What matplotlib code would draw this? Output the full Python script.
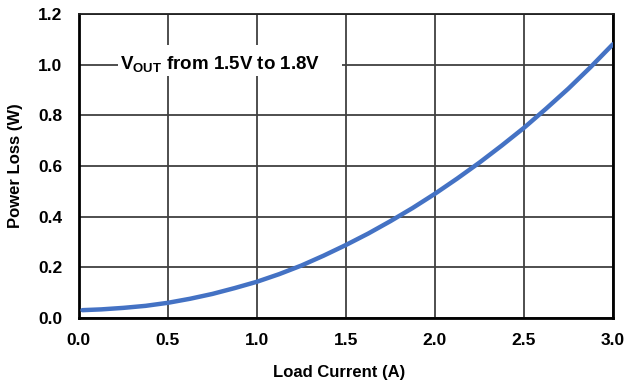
import matplotlib
matplotlib.use("Agg")
import matplotlib.pyplot as plt
from matplotlib.patches import Rectangle

plt.rcParams['font.family'] = ['Liberation Sans', 'DejaVu Sans']
plt.rcParams['font.weight'] = 'bold'
plt.rcParams['mathtext.fontset'] = 'custom'
plt.rcParams['mathtext.rm'] = 'Liberation Sans:bold'
plt.rcParams['mathtext.bf'] = 'Liberation Sans:bold'

# 곡선 데이터
load_current = [0.02, 0.125, 0.25, 0.375, 0.5, 0.625, 0.75, 0.875, 1.0, 1.125, 1.25,
                1.375, 1.5, 1.625, 1.75, 1.875, 2.0, 2.125, 2.25, 2.375, 2.5,
                2.625, 2.75, 2.875, 3.0]
power_loss = [0.031, 0.034, 0.040, 0.048, 0.060, 0.076, 0.095, 0.118, 0.143, 0.173, 0.207,
              0.246, 0.288, 0.333, 0.382, 0.434, 0.490, 0.550, 0.613, 0.680, 0.750,
              0.826, 0.905, 0.990, 1.080]

x_ticks = [0.0, 0.5, 1.0, 1.5, 2.0, 2.5, 3.0]
y_ticks = [0.0, 0.2, 0.4, 0.6, 0.8, 1.0, 1.2]
note = r'V$_{\mathrm{OUT}}$ from 1.5V to 1.8V'

fig = plt.figure(figsize=(6.26, 3.85), dpi=100)
ax = fig.add_axes([0.126, 0.174, 0.853, 0.790])

ax.plot(load_current, power_loss, color='#4472C4', linewidth=3.2,
        solid_capstyle='round', zorder=4)

ax.set_xlim(0, 3.0)
ax.set_ylim(0, 1.2)
ax.set_xticks(x_ticks)
ax.set_yticks(y_ticks)
ax.set_xticklabels([f'{v:.1f}' for v in x_ticks], fontsize=12.5, fontweight='bold')
ax.set_yticklabels([f'{v:.1f}' for v in y_ticks], fontsize=12.5, fontweight='bold')
ax.tick_params(length=0)
ax.tick_params(axis='x', pad=11)
ax.tick_params(axis='y', pad=12)

ax.grid(True, color='#404040', linewidth=1.3)
ax.set_axisbelow(True)

for side in ['left', 'bottom', 'right']:
    ax.spines[side].set_linewidth(2.0)
    ax.spines[side].set_color('black')
ax.spines['top'].set_linewidth(1.3)
ax.spines['top'].set_color('#202020')

ax.set_xlabel('Load Current (A)', fontsize=12, fontweight='bold', labelpad=12)
ax.xaxis.set_label_coords(0.487, -0.155)
ax.set_ylabel('Power Loss (W)', fontsize=12, fontweight='bold', labelpad=11)

# 주석 뒤 흰 배경 (격자선 가림)
ax.add_patch(Rectangle((0.22, 0.953), 1.258, 0.126, facecolor='white',
                       edgecolor='none', zorder=2))
ax.text(0.23, 0.98, note, fontsize=13.5, fontweight='bold',
        va='baseline', ha='left', zorder=3)

fig.savefig('out.png', dpi=100)
